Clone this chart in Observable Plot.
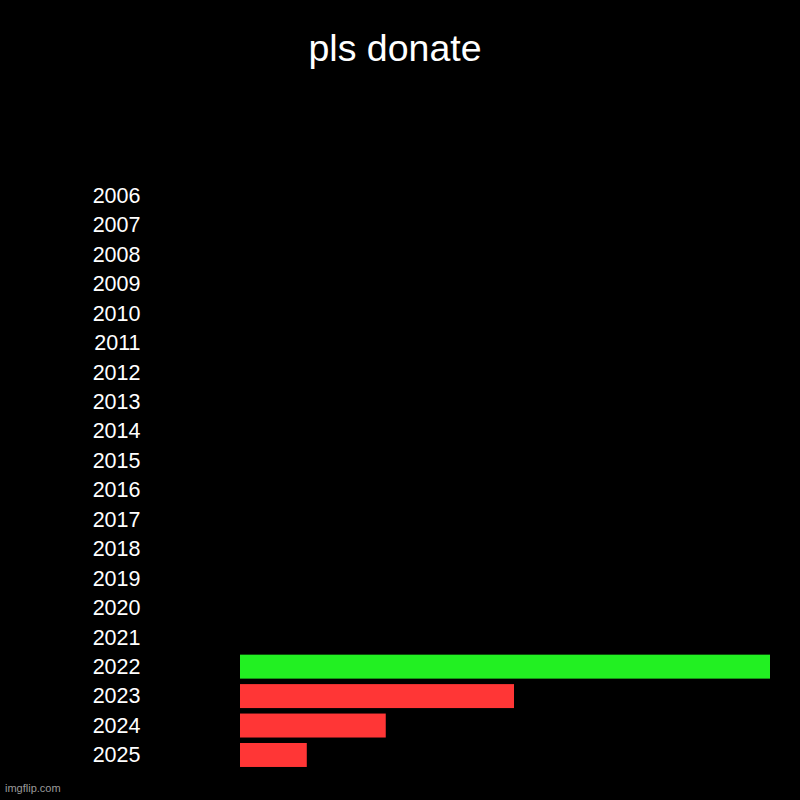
<!DOCTYPE html>
<html>
<head>
<meta charset="utf-8">
<script src="https://cdn.jsdelivr.net/npm/d3@7"></script>
<script src="https://cdn.jsdelivr.net/npm/@observablehq/plot@0.6"></script>
<style>
  html, body { margin: 0; padding: 0; background: #000; }
  #wrap { position: relative; width: 800px; height: 800px; background: #000; overflow: hidden; font-family: "Liberation Sans", Arial, sans-serif; }
  #title { height: 96px; position: relative; }
  #title span { position: absolute; left: 395px; top: 29.5px; font-size: 37.5px; line-height: 37.5px; color: #fff; white-space: nowrap; transform: translateX(-50%); }
  #wm { position: absolute; left: 5px; top: 783px; font-size: 11px; line-height: 11px; color: #9a9a9a; }
  svg { display: block; }
</style>
</head>
<body>
<div id="wrap">
  <div id="title"><span>pls donate</span></div>
  <div id="chart"></div>
  <div id="wm">imgflip.com</div>
</div>
<script>
const years = ["2006","2007","2008","2009","2010","2011","2012","2013","2014","2015","2016","2017","2018","2019","2020","2021","2022","2023","2024","2025"];
const values = [0,0,0,0,0,0,0,0,0,0,0,0,0,0,0,0,100,51.7,27.5,12.6];
const barColors = ["#ff3636","#ff3636","#ff3636","#ff3636","#ff3636","#ff3636","#ff3636","#ff3636","#ff3636","#ff3636","#ff3636","#ff3636","#ff3636","#ff3636","#ff3636","#ff3636","#22f022","#ff3636","#ff3636","#ff3636"];

const data = years.map((y, i) => ({year: y, value: values[i], color: barColors[i]}));

const chart = Plot.plot({
  width: 800,
  height: 704,
  marginLeft: 240,
  marginRight: 30,
  marginTop: 84.8,
  marginBottom: 30.3,
  style: {background: "#000", color: "#fff", fontFamily: "'Liberation Sans', Arial, sans-serif"},
  x: {domain: [0, 100], axis: null},
  y: {domain: years, paddingInner: 0.186, paddingOuter: 0.093, round: false, label: null},
  marks: [
    Plot.barX(data, {y: "year", x: "value", fill: "color"}),
    Plot.axisY({tickSize: 0, tickPadding: 100, fontSize: 21.5, label: null, fill: "#fff"})
  ]
});
document.getElementById("chart").appendChild(chart);
</script>
</body>
</html>
